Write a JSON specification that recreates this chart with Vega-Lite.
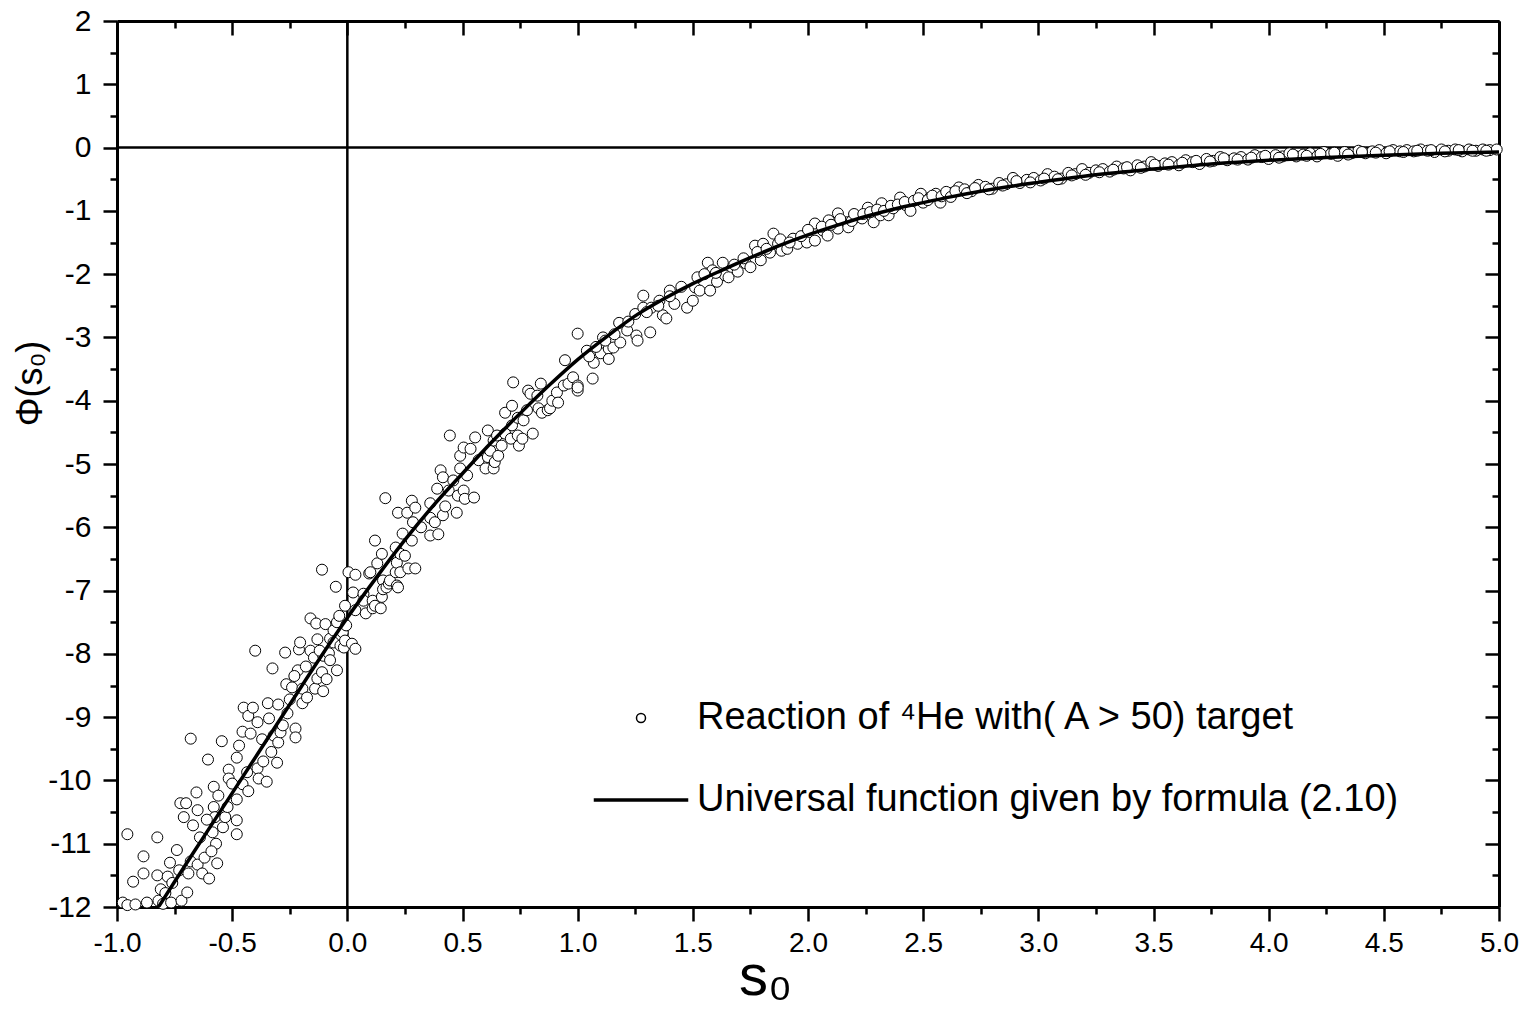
{
"$schema":"https://vega.github.io/schema/vega-lite/v6.json",
"width":1382,"height":886,
"autosize":{"type":"none"},
"padding":{"left":117,"top":21,"right":31,"bottom":113},
"background":"white",
"config":{"view":{"stroke":null},"font":"Liberation Sans",
"axis":{"domainColor":"black","domainWidth":3,"tickColor":"black","tickWidth":2.5,"labelColor":"black","titleColor":"black","grid":false,"labelFont":"Liberation Sans","titleFont":"Liberation Sans","titleFontWeight":"normal","labelOverlap":false,"labelFlush":false,"labelBound":false}},
"datasets":{
"xzero":[{"s0":0}],
"yzero":[{"phi":0}],
"curve":[{"s0":-0.82,"phi":-12.0},{"s0":-0.75,"phi":-11.6},{"s0":-0.625,"phi":-10.9},{"s0":-0.5,"phi":-10.2},{"s0":-0.375,"phi":-9.5},{"s0":-0.25,"phi":-8.8},{"s0":-0.125,"phi":-8.1},{"s0":0,"phi":-7.43},{"s0":0.125,"phi":-6.8},{"s0":0.25,"phi":-6.2},{"s0":0.375,"phi":-5.65},{"s0":0.5,"phi":-5.15},{"s0":0.625,"phi":-4.66},{"s0":0.75,"phi":-4.2},{"s0":0.875,"phi":-3.76},{"s0":1.0,"phi":-3.35},{"s0":1.125,"phi":-2.99},{"s0":1.25,"phi":-2.66},{"s0":1.375,"phi":-2.39},{"s0":1.5,"phi":-2.15},{"s0":1.625,"phi":-1.94},{"s0":1.75,"phi":-1.74},{"s0":1.875,"phi":-1.55},{"s0":2.0,"phi":-1.38},{"s0":2.125,"phi":-1.23},{"s0":2.25,"phi":-1.09},{"s0":2.375,"phi":-0.97},{"s0":2.5,"phi":-0.87},{"s0":2.625,"phi":-0.775},{"s0":2.75,"phi":-0.69},{"s0":2.875,"phi":-0.615},{"s0":3.0,"phi":-0.55},{"s0":3.25,"phi":-0.43},{"s0":3.5,"phi":-0.34},{"s0":3.75,"phi":-0.26},{"s0":4.0,"phi":-0.2},{"s0":4.25,"phi":-0.155},{"s0":4.5,"phi":-0.12},{"s0":4.75,"phi":-0.09},{"s0":5.0,"phi":-0.07}],
"pts":[
{"s0":-0.975,"phi":-11.93},{"s0":-0.955,"phi":-11.97},{"s0":-0.955,"phi":-10.85},{"s0":-0.92,"phi":-11.96},{"s0":-0.885,"phi":-11.2},{"s0":-0.885,"phi":-11.47},{"s0":-0.87,"phi":-11.93},{"s0":-0.825,"phi":-10.9},{"s0":-0.825,"phi":-11.5},{"s0":-0.82,"phi":-11.9},{"s0":-0.81,"phi":-11.72},{"s0":-0.8,"phi":-11.95},{"s0":-0.79,"phi":-11.78},{"s0":-0.78,"phi":-11.52},{"s0":-0.77,"phi":-11.3},{"s0":-0.765,"phi":-11.93},{"s0":-0.74,"phi":-11.1},{"s0":-0.73,"phi":-11.42},{"s0":-0.725,"phi":-10.36},{"s0":-0.72,"phi":-11.9},{"s0":-0.71,"phi":-10.58},{"s0":-0.7,"phi":-10.36},{"s0":-0.695,"phi":-11.77},{"s0":-0.69,"phi":-11.47},{"s0":-0.68,"phi":-9.34},{"s0":-0.68,"phi":-11.28},{"s0":-0.67,"phi":-10.71},{"s0":-0.655,"phi":-10.19},{"s0":-0.65,"phi":-10.47},{"s0":-0.65,"phi":-11.33},{"s0":-0.63,"phi":-11.47},{"s0":-0.62,"phi":-11.22},{"s0":-0.605,"phi":-9.67},{"s0":-0.6,"phi":-11.55},{"s0":-0.585,"phi":-10.82},{"s0":-0.58,"phi":-10.1},{"s0":-0.58,"phi":-10.42},{"s0":-0.575,"phi":-10.58},{"s0":-0.57,"phi":-11.0},{"s0":-0.565,"phi":-11.31},{"s0":-0.56,"phi":-10.24},{"s0":-0.545,"phi":-9.38},{"s0":-0.54,"phi":-10.74},{"s0":-0.53,"phi":-10.58},{"s0":-0.52,"phi":-10.42},{"s0":-0.515,"phi":-9.83},{"s0":-0.515,"phi":-9.97},{"s0":-0.48,"phi":-10.3},{"s0":-0.48,"phi":-10.63},{"s0":-0.48,"phi":-10.85},{"s0":-0.48,"phi":-9.64},{"s0":-0.455,"phi":-9.23},{"s0":-0.455,"phi":-10.06},{"s0":-0.45,"phi":-8.85},{"s0":-0.435,"phi":-9.87},{"s0":-0.43,"phi":-8.98},{"s0":-0.43,"phi":-10.17},{"s0":-0.42,"phi":-9.26},{"s0":-0.41,"phi":-8.85},{"s0":-0.4,"phi":-7.95},{"s0":-0.39,"phi":-9.08},{"s0":-0.39,"phi":-9.81},{"s0":-0.385,"phi":-9.97},{"s0":-0.365,"phi":-9.7},{"s0":-0.35,"phi":-10.02},{"s0":-0.345,"phi":-8.78},{"s0":-0.34,"phi":-9.02},{"s0":-0.325,"phi":-8.23},{"s0":-0.32,"phi":-9.29},{"s0":-0.305,"phi":-9.72},{"s0":-0.3,"phi":-9.4},{"s0":-0.3,"phi":-8.8},{"s0":-0.29,"phi":-9.24},{"s0":-0.28,"phi":-9.13},{"s0":-0.27,"phi":-7.98},{"s0":-0.265,"phi":-8.48},{"s0":-0.26,"phi":-8.94},{"s0":-0.24,"phi":-8.53},{"s0":-0.225,"phi":-9.18},{"s0":-0.225,"phi":-9.32},{"s0":-0.215,"phi":-8.26},{"s0":-0.21,"phi":-7.93},{"s0":-0.205,"phi":-7.82},{"s0":-0.195,"phi":-8.55},{"s0":-0.195,"phi":-8.78},{"s0":-0.175,"phi":-8.69},{"s0":-0.16,"phi":-7.95},{"s0":-0.16,"phi":-7.44},{"s0":-0.145,"phi":-8.06},{"s0":-0.14,"phi":-8.55},{"s0":-0.135,"phi":-7.52},{"s0":-0.13,"phi":-7.77},{"s0":-0.13,"phi":-8.39},{"s0":-0.11,"phi":-8.29},{"s0":-0.11,"phi":-6.67},{"s0":-0.105,"phi":-8.59},{"s0":-0.105,"phi":-8.03},{"s0":-0.095,"phi":-7.53},{"s0":-0.08,"phi":-7.99},{"s0":-0.075,"phi":-8.1},{"s0":-0.075,"phi":-7.76},{"s0":-0.06,"phi":-7.82},{"s0":-0.06,"phi":-7.63},{"s0":-0.05,"phi":-6.94},{"s0":-0.045,"phi":-8.26},{"s0":-0.045,"phi":-7.5},{"s0":-0.03,"phi":-7.87},{"s0":-0.02,"phi":-7.66},{"s0":-0.015,"phi":-7.9},{"s0":-0.01,"phi":-7.24},{"s0":-0.01,"phi":-7.79},
{"s0":-0.93,"phi":-11.6},{"s0":-0.76,"phi":-11.62},{"s0":-0.64,"phi":-10.9},{"s0":-0.61,"phi":-10.62},{"s0":-0.59,"phi":-11.12},{"s0":-0.5,"phi":-10.05},{"s0":-0.47,"phi":-9.45},{"s0":-0.37,"phi":-9.35},{"s0":-0.33,"phi":-9.55},{"s0":-0.25,"phi":-8.72},{"s0":-0.23,"phi":-8.35},{"s0":-0.18,"phi":-8.2},{"s0":-0.12,"phi":-7.95},{"s0":-0.09,"phi":-8.4},{"s0":-0.035,"phi":-7.4},{"s0":-0.005,"phi":-7.55},
{"s0":0.005,"phi":-6.71},{"s0":0.02,"phi":-7.84},{"s0":0.025,"phi":-7.03},{"s0":0.035,"phi":-6.75},{"s0":0.035,"phi":-7.31},{"s0":0.035,"phi":-7.92},{"s0":0.07,"phi":-7.05},{"s0":0.07,"phi":-7.16},{"s0":0.08,"phi":-7.36},{"s0":0.095,"phi":-6.73},{"s0":0.1,"phi":-6.71},{"s0":0.11,"phi":-7.16},{"s0":0.11,"phi":-7.28},{"s0":0.12,"phi":-7.24},{"s0":0.12,"phi":-6.21},{"s0":0.13,"phi":-6.57},{"s0":0.145,"phi":-7.28},{"s0":0.15,"phi":-7.1},{"s0":0.15,"phi":-6.42},{"s0":0.155,"phi":-6.84},{"s0":0.155,"phi":-6.98},{"s0":0.165,"phi":-5.54},{"s0":0.17,"phi":-6.95},{"s0":0.18,"phi":-6.89},{"s0":0.185,"phi":-6.84},{"s0":0.21,"phi":-6.71},{"s0":0.21,"phi":-6.32},{"s0":0.215,"phi":-6.92},{"s0":0.215,"phi":-6.56},{"s0":0.22,"phi":-6.95},{"s0":0.22,"phi":-5.77},{"s0":0.23,"phi":-6.42},{"s0":0.23,"phi":-6.71},{"s0":0.24,"phi":-6.1},{"s0":0.25,"phi":-6.45},{"s0":0.26,"phi":-5.77},{"s0":0.265,"phi":-6.65},{"s0":0.28,"phi":-6.21},{"s0":0.28,"phi":-5.58},{"s0":0.285,"phi":-5.92},{"s0":0.295,"phi":-6.65},{"s0":0.295,"phi":-5.69},{"s0":0.32,"phi":-6.0},{"s0":0.36,"phi":-6.13},{"s0":0.36,"phi":-5.85},{"s0":0.36,"phi":-5.62},{"s0":0.38,"phi":-5.92},{"s0":0.39,"phi":-5.39},{"s0":0.395,"phi":-6.11},{"s0":0.405,"phi":-5.1},{"s0":0.415,"phi":-5.81},{"s0":0.415,"phi":-5.21},{"s0":0.425,"phi":-5.67},{"s0":0.44,"phi":-5.42},{"s0":0.445,"phi":-4.55},{"s0":0.46,"phi":-5.26},{"s0":0.475,"phi":-5.77},{"s0":0.48,"phi":-5.5},{"s0":0.49,"phi":-5.07},{"s0":0.49,"phi":-4.87},{"s0":0.505,"phi":-5.42},{"s0":0.505,"phi":-4.74},{"s0":0.51,"phi":-5.55},{"s0":0.52,"phi":-5.18},{"s0":0.535,"phi":-4.76},{"s0":0.55,"phi":-5.53},{"s0":0.555,"phi":-4.58},{"s0":0.57,"phi":-4.94},{"s0":0.6,"phi":-5.07},{"s0":0.61,"phi":-4.89},{"s0":0.61,"phi":-4.47},{"s0":0.62,"phi":-4.79},{"s0":0.635,"phi":-5.07},{"s0":0.635,"phi":-4.63},{"s0":0.64,"phi":-4.97},{"s0":0.65,"phi":-4.55},{"s0":0.655,"phi":-4.87},{"s0":0.67,"phi":-4.71},{"s0":0.685,"phi":-4.52},{"s0":0.685,"phi":-4.19},{"s0":0.71,"phi":-4.6},{"s0":0.715,"phi":-4.39},{"s0":0.715,"phi":-4.08},{"s0":0.72,"phi":-3.71},{"s0":0.74,"phi":-4.55},{"s0":0.74,"phi":-4.27},{"s0":0.745,"phi":-4.71},{"s0":0.76,"phi":-4.6},{"s0":0.765,"phi":-4.31},{"s0":0.78,"phi":-4.15},{"s0":0.785,"phi":-3.84},{"s0":0.795,"phi":-3.89},{"s0":0.805,"phi":-4.52},{"s0":0.825,"phi":-3.92},{"s0":0.83,"phi":-4.12},{"s0":0.84,"phi":-3.73},{"s0":0.845,"phi":-4.19},{"s0":0.87,"phi":-4.15},{"s0":0.88,"phi":-4.12},{"s0":0.89,"phi":-4.0},{"s0":0.91,"phi":-3.87},{"s0":0.915,"phi":-4.03},{"s0":0.94,"phi":-3.76},{"s0":0.945,"phi":-3.36},{"s0":0.96,"phi":-3.73},{"s0":0.98,"phi":-3.63},{"s0":1.0,"phi":-3.76},{"s0":1.0,"phi":-3.84},{"s0":1.0,"phi":-2.94},{"s0":1.0,"phi":-3.79},
{"s0":1.04,"phi":-3.21},{"s0":1.065,"phi":-3.65},{"s0":1.07,"phi":-3.4},{"s0":1.1,"phi":-3.25},{"s0":1.11,"phi":-3.0},{"s0":1.135,"phi":-3.18},{"s0":1.135,"phi":-3.34},{"s0":1.155,"phi":-3.16},{"s0":1.18,"phi":-2.77},{"s0":1.185,"phi":-3.08},{"s0":1.215,"phi":-2.89},{"s0":1.25,"phi":-2.63},{"s0":1.255,"phi":-2.97},{"s0":1.26,"phi":-3.05},{"s0":1.285,"phi":-2.53},{"s0":1.285,"phi":-2.34},{"s0":1.315,"phi":-2.92},{"s0":1.32,"phi":-2.53},{"s0":1.355,"phi":-2.42},{"s0":1.37,"phi":-2.65},{"s0":1.385,"phi":-2.7},{"s0":1.4,"phi":-2.26},{"s0":1.42,"phi":-2.47},{"s0":1.475,"phi":-2.53},{"s0":1.5,"phi":-2.42},{"s0":1.51,"phi":-2.21},{"s0":1.53,"phi":-2.26},{"s0":1.565,"phi":-1.82},{"s0":1.575,"phi":-2.26},{"s0":1.585,"phi":-1.94},{"s0":1.605,"phi":-2.12},{"s0":1.63,"phi":-1.82},{"s0":1.64,"phi":-2.02},{"s0":1.655,"phi":-2.05},{"s0":1.695,"phi":-1.96},{"s0":1.73,"phi":-1.83},{"s0":1.75,"phi":-1.89},{"s0":1.77,"phi":-1.55},{"s0":1.795,"phi":-1.78},{"s0":1.805,"phi":-1.52},{"s0":1.835,"phi":-1.66},{"s0":1.85,"phi":-1.36},{"s0":1.87,"phi":-1.52},{"s0":1.885,"phi":-1.63},{"s0":1.91,"phi":-1.6},{"s0":1.935,"phi":-1.44},{"s0":1.955,"phi":-1.52},{"s0":1.995,"phi":-1.36},{"s0":1.995,"phi":-1.5},{"s0":2.03,"phi":-1.2},{"s0":2.03,"phi":-1.47},{"s0":2.065,"phi":-1.31},{"s0":2.085,"phi":-1.39},{"s0":2.09,"phi":-1.15},{"s0":2.13,"phi":-1.04},{"s0":2.13,"phi":-1.28},{"s0":2.17,"phi":-1.18},{"s0":2.175,"phi":-1.26},{"s0":2.215,"phi":-1.1},{"s0":2.235,"phi":-1.12},{"s0":2.26,"phi":-0.95},{"s0":2.285,"phi":-1.18},{"s0":2.315,"phi":-1.07},{"s0":2.32,"phi":-0.88},{"s0":2.35,"phi":-1.07},{"s0":2.37,"phi":-0.96},{"s0":2.4,"phi":-0.79},{"s0":2.425,"phi":-0.91},{"s0":2.445,"phi":-1.0},{"s0":2.49,"phi":-0.73},{"s0":2.5,"phi":-0.87},{"s0":2.53,"phi":-0.79},{"s0":2.555,"phi":-0.73},{"s0":2.575,"phi":-0.87},{"s0":2.605,"phi":-0.73},{"s0":2.63,"phi":-0.71},{"s0":2.655,"phi":-0.63},
{"s0":1.05,"phi":-3.3},{"s0":1.08,"phi":-3.15},{"s0":1.12,"phi":-3.05},{"s0":1.16,"phi":-2.95},{"s0":1.22,"phi":-2.75},{"s0":1.3,"phi":-2.6},{"s0":1.35,"phi":-2.5},{"s0":1.4,"phi":-2.35},{"s0":1.45,"phi":-2.2},{"s0":1.52,"phi":-2.05},{"s0":1.55,"phi":-2.0},{"s0":1.6,"phi":-1.98},{"s0":1.68,"phi":-1.85},{"s0":1.72,"phi":-1.75},{"s0":1.78,"phi":-1.65},{"s0":1.82,"phi":-1.6},{"s0":1.88,"phi":-1.45},{"s0":1.92,"phi":-1.5},{"s0":1.97,"phi":-1.4},{"s0":2.0,"phi":-1.3},{"s0":2.06,"phi":-1.25},{"s0":2.1,"phi":-1.22},{"s0":2.14,"phi":-1.13},{"s0":2.19,"phi":-1.16},{"s0":2.2,"phi":-1.05},{"s0":2.24,"phi":-1.05},{"s0":2.27,"phi":-1.02},{"s0":2.3,"phi":-0.98},{"s0":2.33,"phi":-1.0},{"s0":2.36,"phi":-0.92},{"s0":2.39,"phi":-0.9},{"s0":2.42,"phi":-0.86},{"s0":2.46,"phi":-0.84},{"s0":2.48,"phi":-0.8},{"s0":2.52,"phi":-0.83},{"s0":2.54,"phi":-0.76},{"s0":2.58,"phi":-0.77},{"s0":2.6,"phi":-0.7},{"s0":2.62,"phi":-0.78},{"s0":2.64,"phi":-0.69},
{"s0":2.68,"phi":-0.66},{"s0":2.71,"phi":-0.69},{"s0":2.74,"phi":-0.59},{"s0":2.77,"phi":-0.62},{"s0":2.8,"phi":-0.65},{"s0":2.83,"phi":-0.56},{"s0":2.86,"phi":-0.58},{"s0":2.89,"phi":-0.48},{"s0":2.92,"phi":-0.56},{"s0":2.95,"phi":-0.51},{"s0":2.98,"phi":-0.48},{"s0":3.01,"phi":-0.52},{"s0":3.04,"phi":-0.42},{"s0":3.07,"phi":-0.46},{"s0":3.1,"phi":-0.49},{"s0":3.13,"phi":-0.4},{"s0":3.16,"phi":-0.42},{"s0":3.19,"phi":-0.34},{"s0":3.22,"phi":-0.4},{"s0":3.25,"phi":-0.36},{"s0":3.28,"phi":-0.34},{"s0":3.31,"phi":-0.38},{"s0":3.34,"phi":-0.3},{"s0":3.37,"phi":-0.33},{"s0":3.4,"phi":-0.36},{"s0":3.43,"phi":-0.28},{"s0":3.46,"phi":-0.3},{"s0":3.49,"phi":-0.23},{"s0":3.52,"phi":-0.29},{"s0":3.55,"phi":-0.25},{"s0":3.58,"phi":-0.23},{"s0":3.61,"phi":-0.28},{"s0":3.64,"phi":-0.2},{"s0":3.67,"phi":-0.23},{"s0":3.7,"phi":-0.26},{"s0":3.73,"phi":-0.18},{"s0":3.76,"phi":-0.21},{"s0":3.79,"phi":-0.15},{"s0":3.82,"phi":-0.2},{"s0":3.85,"phi":-0.17},{"s0":3.88,"phi":-0.15},{"s0":3.91,"phi":-0.19},{"s0":3.94,"phi":-0.12},{"s0":3.97,"phi":-0.15},{"s0":4.0,"phi":-0.18},{"s0":4.03,"phi":-0.12},{"s0":4.06,"phi":-0.14},{"s0":4.09,"phi":-0.09},{"s0":4.12,"phi":-0.14},{"s0":4.15,"phi":-0.11},{"s0":4.18,"phi":-0.09},{"s0":4.21,"phi":-0.14},{"s0":4.24,"phi":-0.07},{"s0":4.27,"phi":-0.1},{"s0":4.3,"phi":-0.13},{"s0":4.33,"phi":-0.07},{"s0":4.36,"phi":-0.09},{"s0":4.39,"phi":-0.05},{"s0":4.42,"phi":-0.09},{"s0":4.45,"phi":-0.06},{"s0":4.48,"phi":-0.04},{"s0":4.51,"phi":-0.09},{"s0":4.54,"phi":-0.04},{"s0":4.57,"phi":-0.06},{"s0":4.6,"phi":-0.04},{"s0":4.63,"phi":-0.06},{"s0":4.66,"phi":-0.03},{"s0":4.69,"phi":-0.05},{"s0":4.72,"phi":-0.07},{"s0":4.75,"phi":-0.03},{"s0":4.78,"phi":-0.05},{"s0":4.81,"phi":-0.03},{"s0":4.84,"phi":-0.06},{"s0":4.87,"phi":-0.03},{"s0":4.9,"phi":-0.05},{"s0":4.93,"phi":-0.03},{"s0":4.96,"phi":-0.04},{"s0":4.99,"phi":-0.03},
{"s0":2.69,"phi":-0.72},{"s0":2.725,"phi":-0.64},{"s0":2.785,"phi":-0.66},{"s0":2.845,"phi":-0.6},{"s0":2.905,"phi":-0.53},{"s0":2.965,"phi":-0.55},{"s0":3.025,"phi":-0.49},{"s0":3.085,"phi":-0.5},{"s0":3.145,"phi":-0.44},{"s0":3.205,"phi":-0.43},{"s0":3.265,"phi":-0.39},{"s0":3.325,"phi":-0.35},{"s0":3.385,"phi":-0.31},{"s0":3.445,"phi":-0.32},{"s0":3.505,"phi":-0.27},{"s0":3.565,"phi":-0.27},{"s0":3.625,"phi":-0.24},{"s0":3.685,"phi":-0.21},{"s0":3.745,"phi":-0.22},{"s0":3.805,"phi":-0.17},{"s0":3.865,"phi":-0.19},{"s0":3.925,"phi":-0.16},{"s0":3.985,"phi":-0.13},{"s0":4.045,"phi":-0.16},{"s0":4.105,"phi":-0.11},{"s0":4.165,"phi":-0.13},{"s0":4.225,"phi":-0.1},{"s0":4.285,"phi":-0.08},{"s0":4.345,"phi":-0.11},{"s0":4.405,"phi":-0.07},{"s0":4.465,"phi":-0.08},{"s0":4.525,"phi":-0.06},{"s0":4.585,"phi":-0.07},{"s0":4.645,"phi":-0.05},{"s0":4.705,"phi":-0.04},{"s0":4.765,"phi":-0.06},{"s0":4.825,"phi":-0.04},{"s0":4.885,"phi":-0.05},{"s0":4.945,"phi":-0.05}
]},
"layer":[
{"data":{"name":"xzero"},"mark":{"type":"rule","color":"black","strokeWidth":2.5},
 "encoding":{"x":{"field":"s0","type":"quantitative","scale":{"domain":[-1,5],"nice":false,"zero":false},"axis":null}}},
{"data":{"name":"yzero"},"mark":{"type":"rule","color":"black","strokeWidth":2.5},
 "encoding":{"y":{"field":"phi","type":"quantitative","scale":{"domain":[-12,2],"nice":false,"zero":false},"axis":null}}},
{"data":{"name":"pts"},
 "mark":{"type":"point","color":"black","fill":"white","fillOpacity":1,"strokeWidth":1,"size":121,"opacity":1},
 "encoding":{
  "x":{"field":"s0","type":"quantitative","scale":{"domain":[-1,5],"nice":false,"zero":false},
   "axis":{"orient":"bottom","values":[-1,-0.75,-0.5,-0.25,0,0.25,0.5,0.75,1,1.25,1.5,1.75,2,2.25,2.5,2.75,3,3.25,3.5,3.75,4,4.25,4.5,4.75,5],
    "tickSize":{"condition":{"test":"(datum.value*2)%1==0","value":14},"value":7},
    "labelExpr":"(datum.value*2)%1==0 ? ((datum.value<0?'-':'') + format(abs(datum.value),'.1f')) : ''",
    "labelFontSize":28,"labelPadding":8,
    "title":"s₀","titleFontSize":58,"titleX":648,"titleY":70,"titleBaseline":"middle","titleAlign":"center"}},
  "y":{"field":"phi","type":"quantitative","scale":{"domain":[-12,2],"nice":false,"zero":false},
   "axis":{"orient":"left","values":[-12,-11.5,-11,-10.5,-10,-9.5,-9,-8.5,-8,-7.5,-7,-6.5,-6,-5.5,-5,-4.5,-4,-3.5,-3,-2.5,-2,-1.5,-1,-0.5,0,0.5,1,1.5,2],
    "tickSize":{"condition":{"test":"datum.value%1==0","value":14},"value":7},
    "labelExpr":"datum.value%1==0 ? ((datum.value<0?'-':'') + format(abs(datum.value),'d')) : ''",
    "labelFontSize":30,"labelPadding":12,
    "title":"Φ(s₀)","titleFontSize":36,"titleX":-87,"titleY":362,"titleBaseline":"middle","titleAlign":"center","titleAngle":-90}},
  "shape":{"datum":"Reaction of ⁴He with( A > 50) target",
   "scale":{"domain":["Reaction of ⁴He with( A > 50) target","Universal function given by formula (2.10)"],"range":["circle","M-10.5,-0.22H10.5M-10.5,0H10.5M-10.5,0.22H10.5"]},
   "legend":{"title":null,"orient":"none","legendX":505,"legendY":678,"labelFont":"Liberation Sans","labelFontSize":38,"labelColor":"black","labelOffset":37,"labelLimit":2000,"rowPadding":44,"symbolSize":81}}
 }},
{"data":{"name":"curve"},
 "mark":{"type":"line","color":"black","strokeWidth":3.5,"interpolate":"monotone","clip":true},
 "encoding":{
  "x":{"field":"s0","type":"quantitative","scale":{"domain":[-1,5],"nice":false,"zero":false},
   "axis":{"orient":"top","values":[-1,-0.75,-0.5,-0.25,0,0.25,0.5,0.75,1,1.25,1.5,1.75,2,2.25,2.5,2.75,3,3.25,3.5,3.75,4,4.25,4.5,4.75,5],
    "tickSize":{"condition":{"test":"(datum.value*2)%1==0","value":-14},"value":-7},"labels":false,"title":null}},
  "y":{"field":"phi","type":"quantitative","scale":{"domain":[-12,2],"nice":false,"zero":false},
   "axis":{"orient":"right","values":[-12,-11.5,-11,-10.5,-10,-9.5,-9,-8.5,-8,-7.5,-7,-6.5,-6,-5.5,-5,-4.5,-4,-3.5,-3,-2.5,-2,-1.5,-1,-0.5,0,0.5,1,1.5,2],
    "tickSize":{"condition":{"test":"datum.value%1==0","value":-14},"value":-7},"labels":false,"title":null}}
 }}
],
"resolve":{"axis":{"x":"independent","y":"independent"}}
}
